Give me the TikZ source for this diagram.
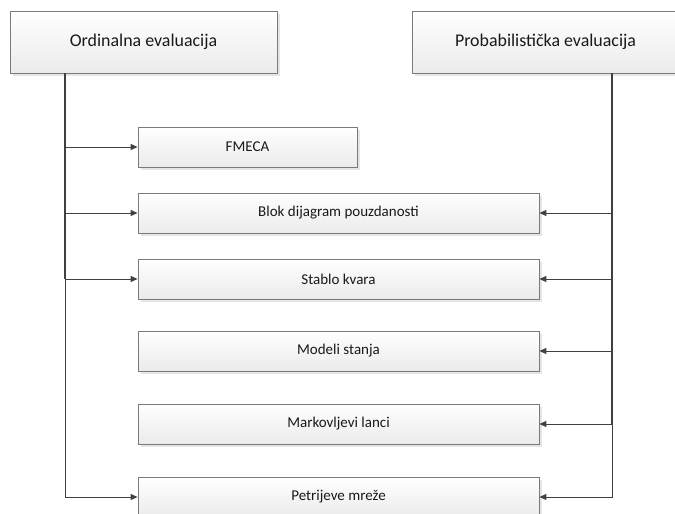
\documentclass[tikz,border=0pt]{standalone}
\usepackage{fontspec}
\setmainfont{Carlito}
\usetikzlibrary{arrows.meta,shadows}
\definecolor{ln}{HTML}{404040}
\definecolor{bd}{HTML}{7A7A7A}
\begin{document}
\begin{tikzpicture}[x=1pt,y=-1pt,
 box/.style={draw=bd,line width=0.8pt,top color=white,bottom color=black!8,
   drop shadow={shadow xshift=2.5pt,shadow yshift=-2.5pt,fill=black!10,opacity=1},
   inner sep=0pt,text=black!90,font=\fontsize{15}{17}\selectfont},
 head/.style={box,minimum width=267pt,minimum height=62pt,font=\fontsize{17.9}{20}\selectfont},
 item/.style={box,minimum width=401pt,minimum height=40pt},
 conn/.style={draw=ln,line width=1pt,-{Triangle[length=7pt,width=6pt]}},
 trunk/.style={draw=ln,line width=1.8pt}]
\useasboundingbox (0,0) rectangle (675,514);
\node[head] (ord) at (143.5,42) {Ordinalna evaluacija};
\node[head] (prob) at (545.5,42) {Probabilistička evaluacija};
\node[box,minimum width=219pt,minimum height=40pt] (fmeca) at (247.5,147) {FMECA};
\node[item] (blok) at (338.5,213) {Blok dijagram pouzdanosti};
\node[item] (stablo) at (338.5,279) {Stablo kvara};
\node[item] (modeli) at (338.5,351) {Modeli stanja};
\node[item] (markov) at (338.5,424) {Markovljevi lanci};
\node[item] (petri) at (338.5,497) {Petrijeve mreže};
\coordinate (ls) at ([xshift=-78.5pt]ord.south);
\coordinate (rs) at ([xshift=66.5pt]prob.south);
\draw[trunk] (ls) -- (ls |- stablo.west);
\draw[trunk] (rs) -- (rs |- markov.east);
\draw[conn] (ls) |- (fmeca.west);
\draw[conn] (ls) |- (blok.west);
\draw[conn] (ls) |- (stablo.west);
\draw[conn] (ls) |- (petri.west);
\draw[conn] (rs) |- (blok.east);
\draw[conn] (rs) |- (stablo.east);
\draw[conn] (rs) |- (modeli.east);
\draw[conn] (rs) |- (markov.east);
\draw[conn] (rs) |- (petri.east);
\end{tikzpicture}
\end{document}
